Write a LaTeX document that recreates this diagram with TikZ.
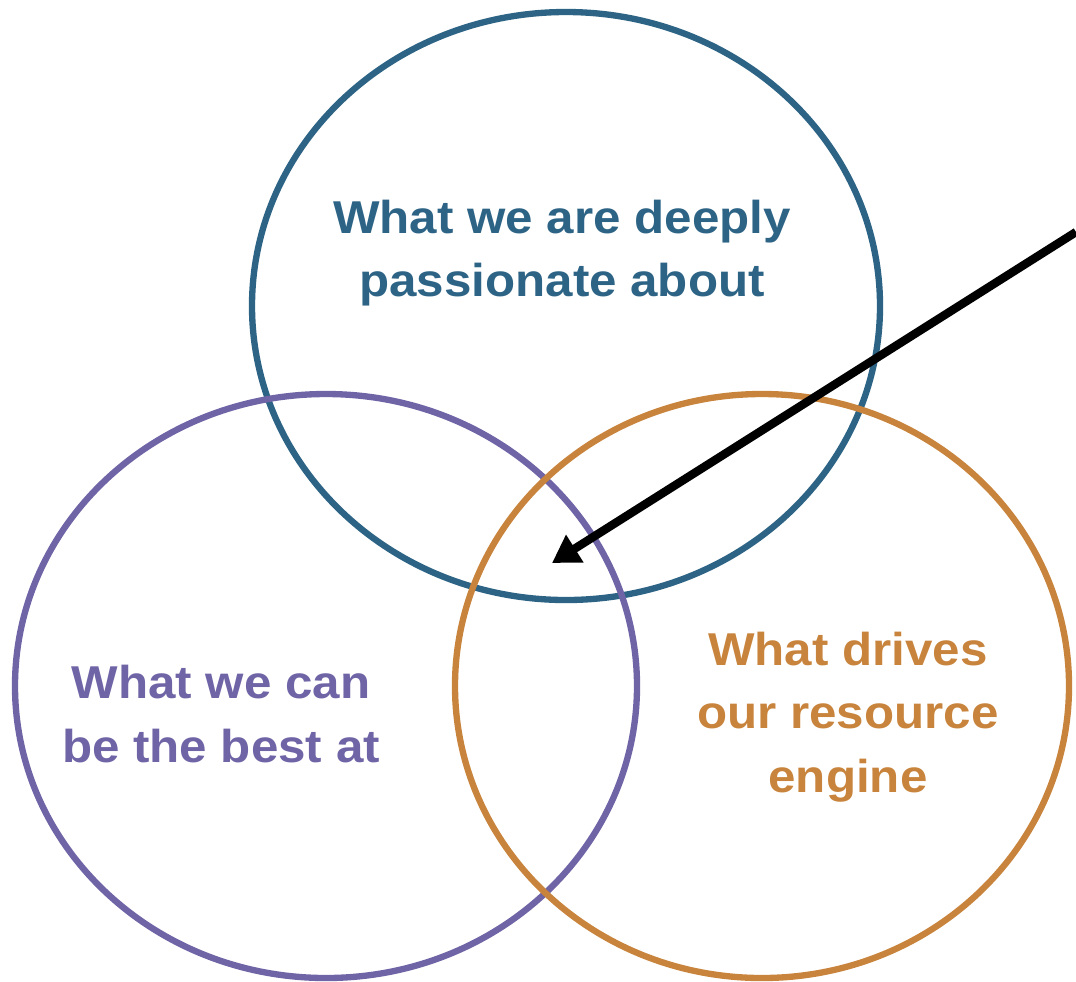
\documentclass[tikz,border=0pt]{standalone}
\usepackage{fontspec}
\setmainfont{Liberation Sans}[FakeStretch=1.07]
\usepackage{tikz}
\usetikzlibrary{arrows.meta}
\definecolor{passionblue}{HTML}{2D6486}
\definecolor{bestpurple}{HTML}{6E64A6}
\definecolor{engineorange}{HTML}{C8843C}
\tikzstyle{ring}=[line width=1.8pt]
\tikzstyle{vennlabel}=[align=center, inner sep=0pt, font=\fontsize{13.1}{18}\selectfont\bfseries]
\newcommand{\vennRing}[4]{
	\draw[ring, #1] #2 ellipse (#3 and #4);
}

\begin{document}
\begin{tikzpicture}[x=0.01cm,y=-0.01cm]
	\useasboundingbox (0,0) rectangle (1076,981);
	\vennRing{passionblue}{(566,306)}{314}{294}
	\vennRing{bestpurple}{(326,686)}{311}{292}
	\vennRing{engineorange}{(762,686)}{307}{292}
	\node[vennlabel, text=passionblue] (passion) at (562,253) {What we are deeply\\passionate about};
	\node[vennlabel, text=bestpurple] (best) at (221,714) {What we can\\be the best at};
	\node[vennlabel, text=engineorange] (engine) at (848,717) {What drives\\our resource\\engine};
	\coordinate (pointer) at (1076,232);
	\coordinate (sweetspot) at (552,563);
	\draw[line width=2.4pt, -{Triangle[length=0.27cm, width=0.31cm]}] (pointer) -- (sweetspot);
\end{tikzpicture}
\end{document}
